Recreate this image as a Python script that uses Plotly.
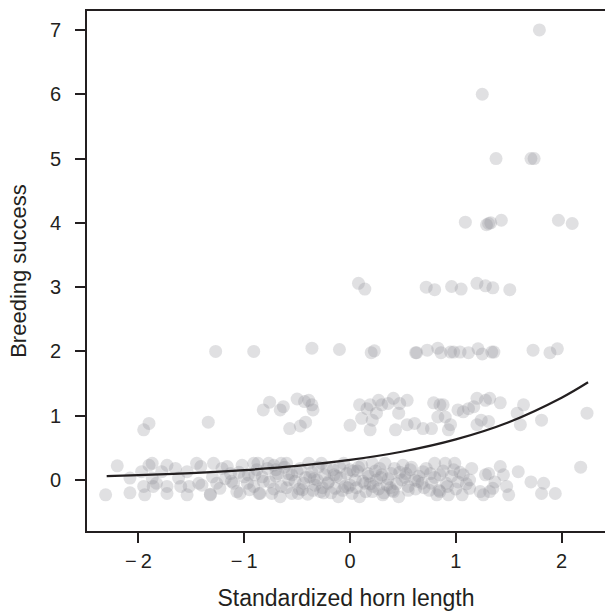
import plotly.graph_objects as go

# ---- data ----
# row near 0 (jittered)
x0 = [-2.20,-2.31,-2.08,-2.08,-1.97,-1.95,-1.94,-1.90,-1.87,-1.87,-1.86,-1.83,-1.78,-1.73,-1.73,-1.73,
      -1.65,-1.62,-1.60,-1.54,-1.54,-1.52,-1.45,-1.41,-1.43,-1.40,-1.32,-1.32,-1.30,-1.29,-1.26,-1.23,
      -1.21,-1.16,-1.13,-1.10,-1.07,-1.04,-1.02,-1.00,-0.97,-0.91,-0.91,-0.88,-0.86,
      -0.87,-0.83,-0.85,-0.77,-0.72,-0.76,-0.74,-0.68,-0.65,-0.65,-0.66,-0.60,-0.58,-0.55,-0.50,-0.49,
      -0.44,-0.39,-0.38,-0.35,-0.31,-0.28,-0.27,-0.24,-0.21,-0.16,-0.14,-0.11,-0.09,-0.06,-0.05,0.00,
      0.02,0.05,0.09,0.11,0.14,0.17,0.21,0.21,0.25,0.28,0.31,0.33,0.35,0.39,0.41,0.46,0.49,0.50,0.55,
      0.57,0.61,0.68,0.69,
      0.76,0.80,0.77,0.82,0.85,0.90,0.91,0.93,0.98,0.99,1.02,1.06,1.07,1.13,1.15,1.13,1.23,1.26,1.28,
      1.31,1.32,1.35,1.37,1.42,1.45,1.48,1.50,1.59,1.71,1.83,1.81,1.94,2.18,
      -1.18,-1.05,-0.95,-0.90,-0.82,-0.78,-0.72,-0.70,-0.62,-0.60,-0.55,-0.52,-0.47,-0.45,-0.42,-0.40,
      -0.36,-0.33,-0.30,-0.26,-0.22,-0.20,-0.18,-0.13,-0.10,-0.07,-0.03,0.00,0.03,0.06,0.08,0.12,0.15,
      0.18,0.22,0.24,0.27,0.30,0.32,0.36,0.38,0.42,0.44,0.47,0.52,0.55,0.58,0.62,0.65,0.70,0.72,0.75,
      0.80,0.85,0.88,0.92,0.96,1.00,1.04,1.10,
      -0.58,-0.48,-0.34,-0.25,-0.15,-0.02,0.07,0.19,0.29,0.40,0.53,0.64,-0.70,-0.96,-1.12,0.84]
y0 = [0.22,-0.23,0.03,-0.20,0.13,-0.10,-0.23,0.23,0.26,0.03,-0.10,-0.05,0.13,0.23,-0.10,-0.21,
      0.18,0.03,-0.10,-0.23,0.13,-0.10,0.26,0.21,-0.05,-0.08,-0.23,-0.22,0.05,0.26,-0.05,-0.13,
      0.18,0.21,0.10,-0.05,-0.18,-0.21,0.23,0.05,-0.05,0.26,-0.10,0.16,-0.21,
      0.26,0.05,-0.21,0.26,0.23,-0.03,-0.21,0.10,0.26,-0.10,-0.26,0.26,0.00,-0.21,0.13,-0.21,
      -0.05,0.26,0.05,-0.16,0.00,-0.18,0.26,0.08,-0.05,0.16,-0.13,-0.26,0.03,0.26,-0.10,0.16,
      -0.21,0.00,-0.26,0.23,-0.05,0.10,0.26,-0.18,0.00,0.18,-0.23,0.26,-0.08,0.10,-0.18,-0.26,0.00,0.23,-0.10,
      0.16,0.00,-0.05,0.13,
      0.10,0.26,-0.05,-0.23,0.08,0.26,-0.05,-0.23,0.16,0.26,-0.03,-0.23,0.08,0.00,0.18,-0.13,-0.18,-0.23,0.08,
      0.10,-0.18,-0.13,-0.03,0.21,0.08,-0.10,-0.23,0.13,-0.03,-0.05,-0.21,-0.21,0.20,
      0.02,0.12,-0.15,0.08,-0.02,0.18,-0.14,0.06,0.20,-0.12,0.08,-0.02,0.18,-0.15,0.04,-0.22,
      0.12,-0.08,0.20,-0.12,0.18,-0.02,-0.20,0.06,0.20,-0.16,0.10,-0.08,0.14,-0.12,0.20,-0.02,-0.18,
      0.06,-0.10,0.14,-0.14,0.08,-0.20,0.02,-0.12,0.18,-0.06,0.12,0.04,-0.16,0.20,-0.14,0.06,-0.12,0.18,-0.16,
      0.04,-0.18,0.14,-0.10,0.06,-0.14,0.12,-0.06,
      0.10,-0.14,0.02,-0.20,0.08,-0.12,0.14,-0.06,0.04,-0.16,0.10,-0.02,0.16,0.08,-0.02,-0.16]

# row near 1
x1 = [-1.95,-1.90,-1.34,-0.82,-0.76,-0.66,-0.63,-0.57,-0.50,-0.47,-0.42,-0.43,-0.39,-0.36,-0.35,0.00,
      0.09,0.16,0.19,0.27,0.30,0.25,0.21,0.11,0.19,0.36,0.41,0.47,0.54,0.46,0.43,0.54,0.61,0.69,0.77,
      0.79,0.85,0.88,0.83,0.90,0.95,0.93,1.02,1.07,1.12,1.17,1.20,1.28,1.32,1.42,1.24,1.31,1.20,1.64,
      1.58,1.61,1.81,2.24]
y1 = [0.78,0.88,0.90,1.09,1.21,1.09,1.14,0.80,1.26,0.84,0.90,1.22,1.24,1.17,1.09,0.85,
      1.17,1.11,1.17,1.24,1.17,1.04,0.93,0.96,0.78,1.19,1.27,1.19,1.24,1.04,0.78,0.86,0.88,0.80,0.80,
      1.20,1.17,1.17,0.98,0.98,0.86,0.78,1.09,1.06,1.11,1.14,1.27,1.24,1.27,1.20,0.93,0.91,0.86,1.17,
      1.04,0.86,0.93,1.04]

# rows 2 to 7
x2 = [-1.27,-0.91,-0.36,-0.10,0.20,0.23,0.62,0.63,0.73,0.83,0.86,0.95,0.98,1.04,1.12,1.21,1.25,1.34,1.36,
      1.73,1.89,1.96]
y2 = [2.00,2.00,2.05,2.03,1.98,2.01,1.98,1.98,2.02,2.05,1.98,1.99,1.99,1.99,1.98,2.04,1.96,1.99,1.99,
      2.02,1.98,2.04]
x3 = [0.08,0.14,0.72,0.80,0.96,1.05,1.20,1.28,1.35,1.51]
y3 = [3.06,2.97,3.00,2.96,3.01,2.97,3.06,3.02,2.99,2.96]
x4 = [1.09,1.29,1.31,1.33,1.43,1.97,2.10]
y4 = [4.01,3.97,3.99,4.00,4.04,4.04,3.99]
x5 = [1.25,1.38,1.71,1.74,1.79]
y5 = [6.00,5.00,5.00,5.00,7.00]

# fitted curve, read at these x positions
curve_x = [-2.3,-2.0,-1.5,-1.0,-0.5,0.0,0.5,1.0,1.5,2.0,2.25]
curve_y = [0.062,0.076,0.108,0.154,0.219,0.313,0.444,0.632,0.899,1.28,1.52]

xticks = [-2,-1,0,1,2]
xtick_text = ["\u2212\u20092","\u2212\u20091","0","1","2"]
yticks = [0,1,2,3,4,5,6,7]

px_ = x0 + x1 + x2 + x3 + x4 + x5
py_ = y0 + y1 + y2 + y3 + y4 + y5

ink = "#231f20"
font = "Liberation Sans, Arial, sans-serif"

fig = go.Figure()
fig.add_trace(go.Scatter(x=px_, y=py_, mode="markers",
                         marker=dict(size=13, color="rgba(140,140,148,0.27)", line=dict(width=0)),
                         hoverinfo="skip", showlegend=False))
fig.add_trace(go.Scatter(x=curve_x, y=curve_y, mode="lines",
                         line=dict(color=ink, width=2.2, shape="spline"),
                         showlegend=False))

fig.update_layout(
    width=605, height=611,
    margin=dict(l=87, r=0, t=11, b=80),
    paper_bgcolor="white", plot_bgcolor="white",
    font=dict(family=font, color=ink, size=20),
    xaxis=dict(range=[-2.486, 2.41], showgrid=False, zeroline=False, automargin=False,
               showline=True, linecolor=ink, linewidth=2, mirror=True,
               ticks="outside", ticklen=10, tickwidth=2, tickcolor=ink,
               tickvals=xticks, ticktext=xtick_text, ticklabelstandoff=1,
               tickfont=dict(size=20, family=font, color=ink),
               title=dict(text="Standardized horn length", standoff=19,
                          font=dict(size=23, family=font, color=ink))),
    yaxis=dict(range=[-0.793, 7.295], showgrid=False, zeroline=False, automargin=False,
               showline=True, linecolor=ink, linewidth=2, mirror=False,
               ticks="outside", ticklen=10, tickwidth=2, tickcolor=ink,
               tickvals=yticks, ticklabelstandoff=10,
               tickfont=dict(size=20, family=font, color=ink),
               title=dict(text="Breeding success", standoff=17,
                          font=dict(size=22, family=font, color=ink))),
)

fig.write_html("out.html", config={"displayModeBar": False},
               post_script="document.body.style.margin='0';")
